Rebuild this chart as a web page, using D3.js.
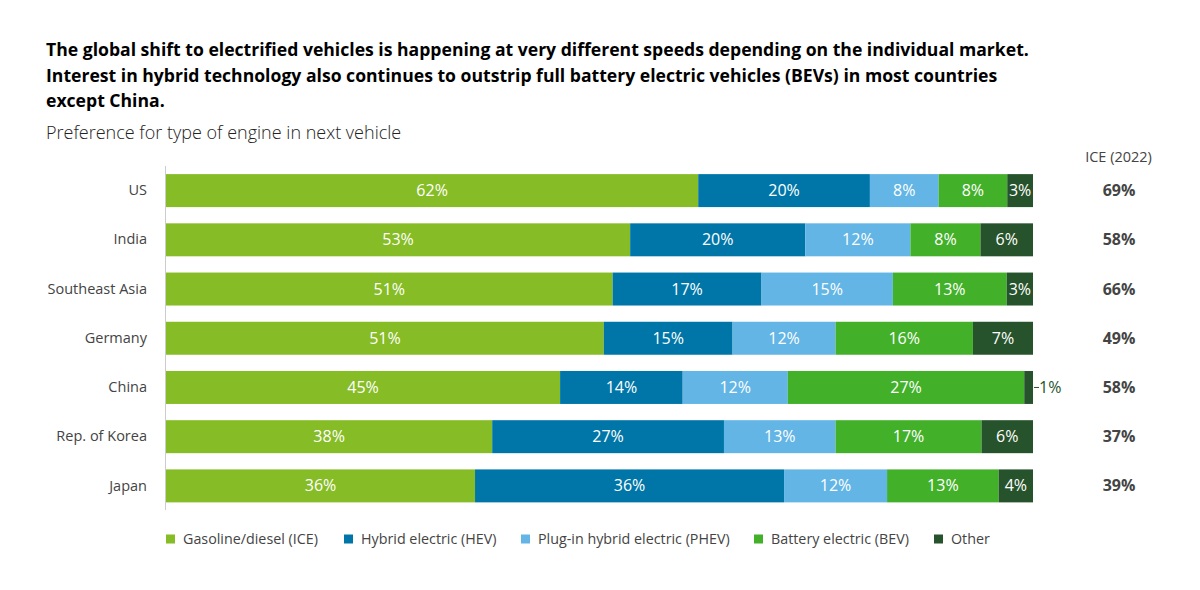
<!DOCTYPE html>
<html><head><meta charset="utf-8">
<script src="https://cdn.jsdelivr.net/npm/d3@7"></script>
<style>body{margin:0;background:#fff;font-family:"Open Sans",sans-serif;}</style>
</head><body><svg id="c" width="1200" height="590"></svg>
<script>
const countries = ["US","India","Southeast Asia","Germany","China","Rep. of Korea","Japan"];
const seriesNames = ["Gasoline/diesel (ICE)","Hybrid electric (HEV)","Plug-in hybrid electric (PHEV)","Battery electric (BEV)","Other"];
const ICE = [62,53,51,51,45,38,36];
const HEV = [20,20,17,15,14,27,36];
const PHEV = [8,12,15,12,12,13,12];
const BEV = [8,8,13,16,27,17,13];
const Other = [3,6,3,7,1,6,4];
const ice2022 = ["69%","58%","66%","49%","58%","37%","39%"];
const colors = ["#86bc25","#0076a8","#62b5e5","#43b02a","#26532b"];

const keys = ["ICE","HEV","PHEV","BEV","Other"];
const table = countries.map((c,i)=>({country:c,ICE:ICE[i],HEV:HEV[i],PHEV:PHEV[i],BEV:BEV[i],Other:Other[i]}));
const stack = d3.stack().keys(keys).offset(d3.stackOffsetExpand)(table);

const svg = d3.select("#c");
const x = d3.scaleLinear().domain([0,1]).range([166,1033]);
const y = d3.scaleBand().domain(countries).range([166,510.5]).paddingInner(0.33).paddingOuter(0.165);
const color = d3.scaleOrdinal().domain(keys).range(colors);

// title
const title = ["The global shift to electrified vehicles is happening at very different speeds depending on the individual market.",
"Interest in hybrid technology also continues to outstrip full battery electric vehicles (BEVs) in most countries",
"except China."];
svg.append("g").selectAll("text").data(title).join("text")
  .attr("x",46).attr("y",(d,i)=>56+i*25.5)
  .attr("font-size",17.6).attr("font-weight",700).attr("fill","#000").text(d=>d);
svg.append("text").attr("x",46).attr("y",139).attr("font-size",18).attr("font-weight",300).attr("fill","#222")
  .text("Preference for type of engine in next vehicle");

// axis line
svg.append("line").attr("x1",165.5).attr("x2",165.5).attr("y1",166).attr("y2",510).attr("stroke","#ccc");

// country labels
const yAxis = d3.axisLeft(y).tickSize(0).tickPadding(18);
const ga = svg.append("g").attr("transform","translate(165,0)").call(yAxis);
ga.select(".domain").remove();
ga.selectAll("text").attr("font-family","Open Sans").attr("font-size",14.5).attr("fill","#444");

// bars
const layers = svg.append("g").selectAll("g").data(stack).join("g").attr("fill",d=>color(d.key));
layers.selectAll("rect").data(d=>d).join("rect")
  .attr("x",d=>x(d[0])).attr("width",d=>x(d[1])-x(d[0]))
  .attr("y",d=>y(d.data.country)).attr("height",y.bandwidth());

// labels
stack.forEach(layer=>{
  layer.forEach(d=>{
    const v = d.data[layer.key];
    const w = x(d[1])-x(d[0]);
    const cy = y(d.data.country)+y.bandwidth()/2;
    if (w > 20) {
      svg.append("text").attr("x",(x(d[0])+x(d[1]))/2).attr("y",cy).attr("dy","0.35em")
        .attr("text-anchor","middle").attr("font-size",16).attr("fill","#fff").text(v+"%");
    } else {
      svg.append("line").attr("x1",x(d[1])+1).attr("x2",x(d[1])+6).attr("y1",cy).attr("y2",cy).attr("stroke","#26532b");
      svg.append("text").attr("x",x(d[1])+6).attr("y",cy).attr("dy","0.35em")
        .attr("font-size",16).attr("fill","#26532b").text(v+"%");
    }
  });
});

// ICE 2022
svg.append("text").attr("x",1118.5).attr("y",162).attr("text-anchor","middle").attr("font-size",14.5).attr("fill","#444").text("ICE (2022)");
svg.append("g").selectAll("text").data(countries).join("text")
  .attr("x",1119).attr("y",c=>y(c)+y.bandwidth()/2).attr("dy","0.35em").attr("text-anchor","middle")
  .attr("font-size",16).attr("font-weight",700).attr("fill","#444").text((c,i)=>ice2022[i]);

// legend
const legX = [166,344,521,754,934];
const lg = svg.append("g").selectAll("g").data(seriesNames).join("g")
  .attr("transform",(d,i)=>`translate(${legX[i]},539)`);
lg.append("rect").attr("x",0).attr("y",-4.5).attr("width",9).attr("height",9).attr("fill",(d,i)=>colors[i]);
lg.append("text").attr("x",17).attr("y",0).attr("dy","0.35em").attr("font-size",14.3).attr("fill","#444").text(d=>d);
</script></body></html>
